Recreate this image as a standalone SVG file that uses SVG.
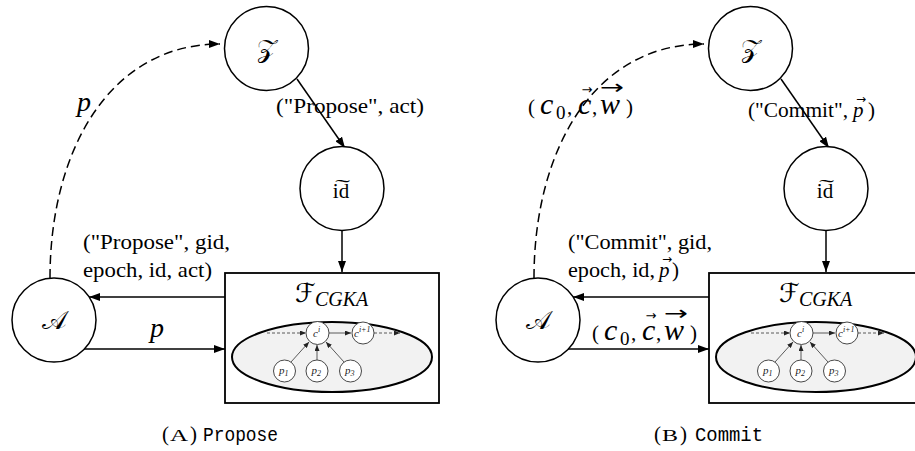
<svg xmlns="http://www.w3.org/2000/svg" width="915" height="451" viewBox="0 0 915 451">
<style>
.n{fill:#fff;stroke:#000;stroke-width:1.5}
.ln{fill:none;stroke:#000;stroke-width:1.5}
.dash{fill:none;stroke:#000;stroke-width:1.5;stroke-dasharray:9 5}
.box{fill:#fff;stroke:#000;stroke-width:1.8}
.ell{fill:#f2f2f2;stroke:#000;stroke-width:2}
.sn{fill:#fff;stroke:#333;stroke-width:0.9}
.sl{fill:none;stroke:#333;stroke-width:0.8}
.sd{fill:none;stroke:#333;stroke-width:0.8;stroke-dasharray:3 2}
.t{font-family:"Liberation Serif","DejaVu Serif",serif;font-size:21px;fill:#000}
.m{font-family:"Liberation Serif","DejaVu Serif",serif;font-style:italic;fill:#000}
.ar{font-family:"DejaVu Sans",sans-serif;fill:#000;text-anchor:middle}
.scr{font-family:"DejaVu Serif","DejaVu Sans","Noto Sans",serif;fill:#000}
.st{font-family:"Liberation Serif","DejaVu Serif",serif;font-style:italic;font-size:11px;fill:#222}
.mono{font-family:"Liberation Mono",monospace;font-size:21px;fill:#000}
</style>
<defs>
<marker id="ah" markerUnits="userSpaceOnUse" markerWidth="11" markerHeight="8" refX="11" refY="4" orient="auto"><path d="M0,0 L11,4 L0,8 z" fill="#000"/></marker>
<marker id="as" markerUnits="userSpaceOnUse" markerWidth="6" markerHeight="5" refX="6" refY="2.5" orient="auto"><path d="M0,0 L6,2.5 L0,5 z" fill="#222"/></marker>
</defs>

<!-- ===== Panel A ===== -->
<g id="connectorsA">
<path class="dash" d="M50,278 C50,150 110,44 220,44" marker-end="url(#ah)"/>
<line class="ln" x1="297" y1="79" x2="345" y2="148" marker-end="url(#ah)"/>
<line class="ln" x1="342" y1="231" x2="342" y2="272" marker-end="url(#ah)"/>
<line class="ln" x1="225" y1="297" x2="89" y2="297" marker-end="url(#ah)"/>
<line class="ln" x1="84" y1="349" x2="225" y2="349" marker-end="url(#ah)"/>
<text class="m" x="77" y="111" font-size="28">p</text>
<text class="t" x="276" y="113" textLength="148" lengthAdjust="spacingAndGlyphs">("Propose", act)</text>
<text class="t" x="83" y="249" textLength="147" lengthAdjust="spacingAndGlyphs">("Propose", gid,</text>
<text class="t" x="83" y="277" textLength="129" lengthAdjust="spacingAndGlyphs">epoch, id, act)</text>
<text class="m" x="150" y="337" font-size="28">p</text>
</g>
<g id="nodeZ_A"><circle class="n" cx="266.5" cy="48.5" r="42"/><text class="scr" x="266.5" y="57" font-size="26" text-anchor="middle">𝒵</text></g>
<g id="nodeId_A"><circle class="n" cx="342" cy="188.5" r="42"/><text class="t" x="341" y="198" font-size="28" text-anchor="middle">i͠d</text></g>
<g id="nodeA_A"><circle class="n" cx="54" cy="320" r="42"/><text class="scr" x="54" y="329" font-size="26" text-anchor="middle">𝒜</text></g>
<g id="nodeF_A">
<rect class="box" x="225" y="273" width="214" height="130"/>
<text class="scr" x="295" y="302" font-size="26">ℱ</text><text class="m" x="315" y="306" font-size="20">CGKA</text>
<ellipse class="ell" cx="332" cy="357" rx="100" ry="35"/>
<line class="sd" x1="267" y1="333" x2="306" y2="333" marker-end="url(#as)"/>
<line class="sl" x1="329" y1="333" x2="351" y2="333" marker-end="url(#as)"/>
<line class="sd" x1="374" y1="333" x2="400" y2="333" marker-end="url(#as)"/>
<line class="sl" x1="291" y1="362" x2="309" y2="342" marker-end="url(#as)"/>
<line class="sl" x1="317" y1="360" x2="317" y2="345" marker-end="url(#as)"/>
<line class="sl" x1="344" y1="362" x2="326" y2="342" marker-end="url(#as)"/>
<circle class="sn" cx="317.5" cy="333" r="11.5"/><text class="st" x="313" y="337">c<tspan font-size="8" dy="-5">i</tspan></text>
<circle class="sn" cx="363" cy="333" r="11"/><text class="st" x="354" y="337">c<tspan font-size="8" dy="-5">i+1</tspan></text>
<circle class="sn" cx="284.5" cy="371" r="11"/><text class="st" x="279" y="374">p<tspan font-size="8" dy="2">1</tspan></text>
<circle class="sn" cx="317" cy="371" r="11"/><text class="st" x="311.5" y="374">p<tspan font-size="8" dy="2">2</tspan></text>
<circle class="sn" cx="350.5" cy="371" r="11"/><text class="st" x="345" y="374">p<tspan font-size="8" dy="2">3</tspan></text>
</g>
<text class="t" x="162" y="441" font-size="22">(<tspan x="170" font-size="17" textLength="18" lengthAdjust="spacingAndGlyphs">A</tspan><tspan x="190">)</tspan><tspan class="mono" x="203" textLength="75" lengthAdjust="spacingAndGlyphs">Propose</tspan></text>

<!-- ===== Panel B ===== -->
<g id="connectorsB">
<path class="dash" d="M534,278 C534,150 594,44 704,44" marker-end="url(#ah)"/>
<line class="ln" x1="781" y1="79" x2="829" y2="148" marker-end="url(#ah)"/>
<line class="ln" x1="826" y1="231" x2="826" y2="272" marker-end="url(#ah)"/>
<line class="ln" x1="709" y1="297" x2="573" y2="297" marker-end="url(#ah)"/>
<line class="ln" x1="568" y1="349" x2="709" y2="349" marker-end="url(#ah)"/>
<text class="t" x="528" y="114" font-size="28">(<tspan class="m" x="540" font-size="30">c</tspan><tspan x="556" dy="5" font-size="19">0</tspan><tspan x="567" dy="-5">,</tspan><tspan class="m" x="578" font-size="30">c</tspan><tspan x="592">,</tspan><tspan class="m" x="600" font-size="30">w</tspan><tspan x="626">)</tspan></text>
<text class="ar" x="587" y="94" font-size="13">→</text>
<text class="ar" x="612" y="94" font-size="20" textLength="24" lengthAdjust="spacingAndGlyphs">→</text>
<text class="t" x="748" y="117" textLength="100" lengthAdjust="spacingAndGlyphs">("Commit",</text>
<text class="m" x="853" y="117" font-size="21">p</text><text class="ar" x="861" y="103" font-size="12">→</text>
<text class="t" x="868" y="117">)</text>
<text class="t" x="568" y="249" textLength="144" lengthAdjust="spacingAndGlyphs">("Commit", gid,</text>
<text class="t" x="568" y="277" textLength="87" lengthAdjust="spacingAndGlyphs">epoch, id,</text>
<text class="m" x="659" y="277" font-size="21">p</text><text class="ar" x="667" y="263" font-size="12">→</text>
<text class="t" x="672" y="277">)</text>
<text class="t" x="592" y="340" font-size="28">(<tspan class="m" x="604" font-size="30">c</tspan><tspan x="620" dy="5" font-size="19">0</tspan><tspan x="631" dy="-5">,</tspan><tspan class="m" x="642" font-size="30">c</tspan><tspan x="656">,</tspan><tspan class="m" x="664" font-size="30">w</tspan><tspan x="690">)</tspan></text>
<text class="ar" x="651" y="320" font-size="13">→</text>
<text class="ar" x="676" y="320" font-size="20" textLength="24" lengthAdjust="spacingAndGlyphs">→</text>
</g>
<g id="nodeZ_B"><circle class="n" cx="750.5" cy="48.5" r="42"/><text class="scr" x="750.5" y="57" font-size="26" text-anchor="middle">𝒵</text></g>
<g id="nodeId_B"><circle class="n" cx="826" cy="188.5" r="42"/><text class="t" x="825" y="198" font-size="28" text-anchor="middle">i͠d</text></g>
<g id="nodeA_B"><circle class="n" cx="538" cy="320" r="42"/><text class="scr" x="538" y="329" font-size="26" text-anchor="middle">𝒜</text></g>
<g id="nodeF_B">
<rect class="box" x="709" y="273" width="214" height="130"/>
<text class="scr" x="779" y="302" font-size="26">ℱ</text><text class="m" x="799" y="306" font-size="20">CGKA</text>
<ellipse class="ell" cx="816" cy="357" rx="100" ry="35"/>
<line class="sd" x1="751" y1="333" x2="790" y2="333" marker-end="url(#as)"/>
<line class="sl" x1="813" y1="333" x2="835" y2="333" marker-end="url(#as)"/>
<line class="sd" x1="858" y1="333" x2="884" y2="333" marker-end="url(#as)"/>
<line class="sl" x1="775" y1="362" x2="793" y2="342" marker-end="url(#as)"/>
<line class="sl" x1="801" y1="360" x2="801" y2="345" marker-end="url(#as)"/>
<line class="sl" x1="828" y1="362" x2="810" y2="342" marker-end="url(#as)"/>
<circle class="sn" cx="801.5" cy="333" r="11.5"/><text class="st" x="797" y="337">c<tspan font-size="8" dy="-5">i</tspan></text>
<circle class="sn" cx="847" cy="333" r="11"/><text class="st" x="838" y="337">c<tspan font-size="8" dy="-5">i+1</tspan></text>
<circle class="sn" cx="768.5" cy="371" r="11"/><text class="st" x="763" y="374">p<tspan font-size="8" dy="2">1</tspan></text>
<circle class="sn" cx="801" cy="371" r="11"/><text class="st" x="795.5" y="374">p<tspan font-size="8" dy="2">2</tspan></text>
<circle class="sn" cx="834.5" cy="371" r="11"/><text class="st" x="829" y="374">p<tspan font-size="8" dy="2">3</tspan></text>
</g>
<text class="t" x="654" y="441" font-size="22">(<tspan x="662" font-size="17" textLength="16" lengthAdjust="spacingAndGlyphs">B</tspan><tspan x="680">)</tspan><tspan class="mono" x="695" textLength="68" lengthAdjust="spacingAndGlyphs">Commit</tspan></text>
</svg>
